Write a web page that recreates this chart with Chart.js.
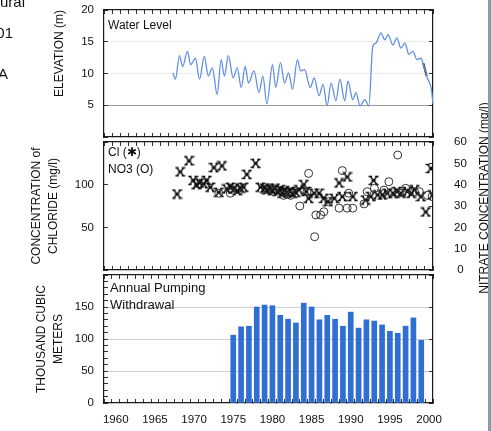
<!DOCTYPE html>
<html>
<head>
<meta charset="utf-8">
<title>Water level, chloride / nitrate and annual pumping</title>
<script src="https://cdn.jsdelivr.net/npm/chart.js@4.4.0/dist/chart.umd.min.js"></script>
<style>
    html, body { margin: 0; padding: 0; background: #fff; }
    #page { position: relative; width: 491px; height: 431px; overflow: hidden;
            font-family: 'Liberation Sans', Arial, sans-serif; color: #111; }
    #page canvas { position: absolute; left: 0; top: 0; }
    .note { position: absolute; white-space: nowrap; line-height: 1; }
    .cut { position: absolute; white-space: nowrap; line-height: 1; font-size: 15px; text-align: right; }
    #nitrateTitle { position: absolute; left: 379px; top: 191px; width: 210px; line-height: 14px;
                    font-size: 12px; text-align: center; transform: rotate(-90deg); transform-origin: 105px 7px; }
    #edge { position: absolute; left: 488px; top: 0; width: 3px; height: 431px; background: #8e99a4; }
</style>
</head>
<body>
<div id="page">
    <canvas id="levelChart" width="491" height="431"></canvas>
    <canvas id="qualityChart" width="491" height="431"></canvas>
    <canvas id="pumpingChart" width="491" height="431"></canvas>

    <div class="cut" style="right:466px; top:-6px;">ural</div>
    <div class="cut" style="right:478px; top:25px;">01</div>
    <div class="cut" style="right:483px; top:66px;">A</div>

    <div class="note" style="left:108px; top:19px; font-size:12px;">Water Level</div>
    <div class="note" style="left:108px; top:146px; font-size:12px;">Cl (&#10033;)</div>
    <div class="note" style="left:108px; top:163px; font-size:12px;">NO3 (O)</div>
    <div class="note" style="left:110px; top:281px; font-size:13px;">Annual Pumping</div>
    <div class="note" style="left:110px; top:298px; font-size:13px;">Withdrawal</div>
    <div id="nitrateTitle">NITRATE CONCENTRATION (mg/l)</div>
    <div id="edge"></div>
</div>

<script>
// ---- values ----
const yearLabels = [1960, 1965, 1970, 1975, 1980, 1985, 1990, 1995, 2000];

// water level, elevation (m)
const levelYears = [1967.6, 1967.9, 1968.4, 1968.8, 1969.4, 1969.8, 1970.4, 1970.9, 1971.5, 1972.0,
    1972.5, 1973.1, 1973.6, 1974.0, 1974.5, 1975.1, 1975.6, 1976.1, 1976.6, 1977.0,
    1977.7, 1978.3, 1978.8, 1979.3, 1980.0, 1980.4, 1981.0, 1981.5, 1982.0, 1982.5,
    1983.1, 1983.5, 1984.0, 1984.7, 1985.2, 1985.8, 1986.3, 1986.8, 1987.3, 1987.9,
    1988.4, 1989.0, 1989.4, 1990.0, 1990.4, 1990.9, 1991.5, 1992.0, 1992.5, 1992.9,
    1993.5, 1994.0, 1994.4, 1995.0, 1995.5, 1996.0, 1996.5, 1997.0, 1997.5, 1998.0,
    1998.5, 1998.8, 1999.3, 1999.8, 2000.0];
const levelValues = [10.1, 9.1, 12.8, 11.1, 13.5, 11.4, 12.4, 9.1, 12.7, 9.6,
    10.9, 6.7, 12.2, 9.6, 12.8, 9.3, 10.9, 7.8, 11.1, 8.5,
    10.4, 7.0, 9.6, 5.2, 11.4, 7.8, 11.7, 8.5, 10.1, 7.5,
    12.2, 10.4, 10.6, 7.8, 9.3, 6.5, 8.3, 4.9, 8.5, 5.7,
    9.1, 5.7, 8.8, 5.9, 7.0, 4.9, 5.9, 4.9, 14.3, 14.8,
    16.4, 15.3, 16.1, 14.5, 15.6, 14.0, 14.8, 13.0, 13.5, 12.2,
    12.4, 11.4, 9.3, 7.5, 5.2];

// short dark piece on the late curve
const gaugeYears = [1998.8, 1999.2];
const gaugeValues = [11.6, 9.6];

// chloride, mg/l (left axis)
const chlorideYears = [1968.1, 1968.5, 1969.6, 1970.1, 1970.5, 1970.9, 1971.4, 1971.8, 1972.25, 1972.7,
    1973.3, 1973.7, 1974.3, 1974.75, 1975.2, 1975.6, 1976.0, 1976.4, 1976.8, 1977.9,
    1978.5, 1979.0, 1979.3, 1979.7, 1980.0, 1980.3, 1980.6, 1981.0, 1981.2, 1981.5,
    1981.8, 1982.2, 1982.5, 1982.9, 1983.3, 1983.9, 1984.2, 1984.5, 1985.2, 1985.8,
    1986.4, 1986.9, 1987.7, 1988.3, 1988.7, 1989.3, 1990.0, 1991.6, 1992.25, 1992.6,
    1993.1, 1993.7, 1994.3, 1995.0, 1995.5, 1996.0, 1996.8, 1997.3, 1997.7, 1998.5,
    1999.1, 1999.75, 1999.95];
const chlorideValues = [89, 115, 128, 105, 100, 102, 101, 105, 97, 120,
    91, 122, 95, 97, 95, 93, 96, 97, 112, 125,
    97, 96, 94, 95, 93, 96, 92, 94, 90, 93,
    91, 92, 90, 91, 94, 100, 92, 84, 90, 90,
    84, 80, 84, 102, 86, 109, 86, 82, 86, 105,
    88, 88, 90, 90, 92, 90, 92, 90, 94, 86,
    68, 119, 88];

// nitrate, mg/l (right axis)
const nitrateYears = [1973.3, 1974.75, 1975.8, 1980.2, 1981.4, 1982.25, 1983.4, 1984.3, 1984.5, 1985.25,
    1985.4, 1986.0, 1986.4, 1987.0, 1988.3, 1988.7, 1989.3, 1989.5, 1990.0, 1991.4,
    1991.8, 1992.7, 1993.9, 1994.5, 1995.6, 1995.8, 1996.6, 1997.7, 1998.3, 1999.3, 1999.9];
const nitrateValues = [36, 36, 37.5, 36.7, 35, 35, 30, 36.7, 45.3, 15.6,
    25.8, 25.8, 27.3, 32, 29, 46.6, 29, 36, 29, 31,
    36.7, 38.3, 37.5, 41.4, 53.9, 36, 38.3, 36.7, 36.7, 35, 34.4];

// annual pumping withdrawal, thousand cubic meters
const pumpingYears = [1975, 1976, 1977, 1978, 1979, 1980, 1981, 1982, 1983, 1984, 1985, 1986, 1987,
    1988, 1989, 1990, 1991, 1992, 1993, 1994, 1995, 1996, 1997, 1998, 1999];
const pumpingValues = [106, 119, 120, 150, 153, 152, 137, 131, 125, 156, 150, 130, 137,
    131, 120, 142, 117, 130, 128, 122, 112, 109, 120, 133, 98];

// ---- shared look ----
const TICK_FONT = { family: "'Liberation Sans', Arial, sans-serif", size: 11.5 };
const TITLE_FONT = { family: "'Liberation Sans', Arial, sans-serif", size: 12, lineHeight: 1.35 };
const INK = '#111';
const X_MIN = 1959, X_MAX = 2000;
const LEFT_W = 104, RIGHT_W = 58;

function points(xs, ys) {
    return xs.map(function(x, i) { return { x: x, y: ys[i] }; });
}

// time axis, ticks every year pointing into the plot
function yearAxis(position, showLabels, height) {
    return {
        type: 'linear', position: position, display: true, min: X_MIN, max: X_MAX,
        border: { display: true, color: '#1a1a1a', width: 1.2 },
        grid: { drawOnChartArea: false, drawTicks: true, tickLength: -4, tickColor: '#333', tickWidth: 1 },
        ticks: {
            display: showLabels, stepSize: 1, autoSkip: false, maxRotation: 0, padding: 14,
            font: TICK_FONT, color: INK,
            callback: function(v) { return yearLabels.indexOf(v) >= 0 ? String(v) : ''; }
        },
        afterFit: function(scale) { scale.height = height; }
    };
}

// value axis; labelOf decides which ticks get text, gridOf the line colour inside
function valueAxis(position, min, max, step, labelOf, gridOf, title) {
    const axis = {
        type: 'linear', position: position, display: true, min: min, max: max,
        border: { display: true, color: '#1a1a1a', width: 1.2 },
        grid: {
            drawOnChartArea: !!gridOf, drawTicks: true, tickLength: -4, tickColor: '#333', tickWidth: 1,
            color: function(ctx) { return gridOf ? gridOf(ctx.tick.value) : 'rgba(0,0,0,0)'; }
        },
        ticks: {
            display: !!labelOf, stepSize: step, autoSkip: false, padding: 14, font: TICK_FONT, color: INK,
            callback: function(v) { return labelOf ? labelOf(v) : ''; }
        },
        afterFit: function(scale) {
            scale.width = position === 'left' ? LEFT_W : RIGHT_W;
            // the label padding is horizontal here, keep it out of the vertical overflow
            scale.paddingTop = Math.min(scale.paddingTop, 7);
            scale.paddingBottom = Math.min(scale.paddingBottom, 7);
        }
    };
    if (title) {
        axis.title = { display: true, text: title.text, align: title.align || 'center',
                       font: TITLE_FONT, color: INK, padding: { top: title.offset, bottom: 0 } };
    }
    return axis;
}

function baseOptions(top, bottom) {
    return {
        responsive: false,
        animation: false,
        events: [],
        layout: { padding: { top: top, bottom: bottom, left: 0, right: 0 } },
        plugins: { legend: { display: false }, tooltip: { enabled: false } }
    };
}

// asterisk-like marker used for chloride
function makeAsterisk() {
    const c = document.createElement('canvas');
    c.width = 11; c.height = 11;
    const g = c.getContext('2d');
    g.strokeStyle = '#111';
    g.lineWidth = 1.4;
    g.beginPath();
    g.moveTo(2, 1.5); g.lineTo(9, 9.5);
    g.moveTo(9, 1.5); g.lineTo(2, 9.5);
    g.moveTo(0.5, 1.5); g.lineTo(4, 1.5);
    g.moveTo(7, 1.5); g.lineTo(10.5, 1.5);
    g.moveTo(0.5, 9.5); g.lineTo(4, 9.5);
    g.moveTo(7, 9.5); g.lineTo(10.5, 9.5);
    g.moveTo(3.5, 5.5); g.lineTo(7.5, 5.5);
    g.stroke();
    return c;
}

// ---- water level panel ----
(function() {
    const opts = baseOptions(10, 431 - 137 - 4);
    opts.scales = {
        x: yearAxis('bottom', false, 4),
        xTop: yearAxis('top', false, 0),
        y: valueAxis('left', 0, 20, 5,
            function(v) { return v === 0 ? '' : String(v); },
            function(v) { return v === 5 ? '#9a9a9a' : (v === 10 || v === 15 ? '#ececec' : 'rgba(0,0,0,0)'); },
            { text: 'ELEVATION (m)', align: 'end', offset: 52 }),
        yRight: valueAxis('right', 0, 20, 5, null, null, null)
    };
    new Chart(document.getElementById('levelChart'), {
        type: 'line',
        data: {
            datasets: [{
                data: points(levelYears, levelValues),
                borderColor: '#5f90e4', borderWidth: 1.3, pointRadius: 0,
                cubicInterpolationMode: 'monotone', yAxisID: 'y'
            }, {
                data: points(gaugeYears, gaugeValues),
                borderColor: '#222', borderWidth: 2, pointRadius: 0, yAxisID: 'y'
            }]
        },
        options: opts
    });
})();

// ---- chloride / nitrate panel ----
(function() {
    const opts = baseOptions(142, 431 - 270 - 4);
    const nitrate = valueAxis('right', 0, 60, 10, function(v) { return String(v); }, null, null);
    // labels centred a little way off the frame
    nitrate.ticks.crossAlign = 'center';
    nitrate.ticks.padding = 25;
    opts.scales = {
        x: yearAxis('bottom', false, 4),
        xTop: yearAxis('top', false, 0),
        y: valueAxis('left', 0, 150, 50,
            function(v) { return v === 50 || v === 100 ? String(v) : ''; },
            null,
            { text: ['CONCENTRATION of', 'CHLORIDE (mg/l)'], offset: 29 }),
        yN: nitrate
    };
    new Chart(document.getElementById('qualityChart'), {
        type: 'scatter',
        data: {
            datasets: [{
                data: points(nitrateYears, nitrateValues),
                pointStyle: 'circle', pointRadius: 4,
                borderColor: '#333', borderWidth: 1, backgroundColor: 'rgba(0,0,0,0)',
                yAxisID: 'yN'
            }, {
                data: points(chlorideYears, chlorideValues),
                pointStyle: makeAsterisk(), pointRadius: 5,
                yAxisID: 'y'
            }]
        },
        options: opts
    });
})();

// ---- annual pumping panel ----
(function() {
    const opts = baseOptions(275, 0);
    opts.scales = {
        x: yearAxis('bottom', true, 28),
        xTop: yearAxis('top', false, 0),
        y: valueAxis('left', 0, 200, 10,
            function(v) { return v % 50 === 0 && v < 200 ? String(v) : ''; },
            function(v) { return v % 50 === 0 && v > 0 && v < 200 ? '#cfcfcf' : 'rgba(0,0,0,0)'; },
            { text: ['THOUSAND CUBIC', 'METERS'], offset: 34 }),
        yRight: valueAxis('right', 0, 200, 50, null, null, null)
    };
    new Chart(document.getElementById('pumpingChart'), {
        type: 'bar',
        data: {
            datasets: [{
                data: points(pumpingYears, pumpingValues),
                backgroundColor: '#2f6fd4', borderWidth: 0, barThickness: 5
            }]
        },
        options: opts
    });
})();
</script>
</body>
</html>
